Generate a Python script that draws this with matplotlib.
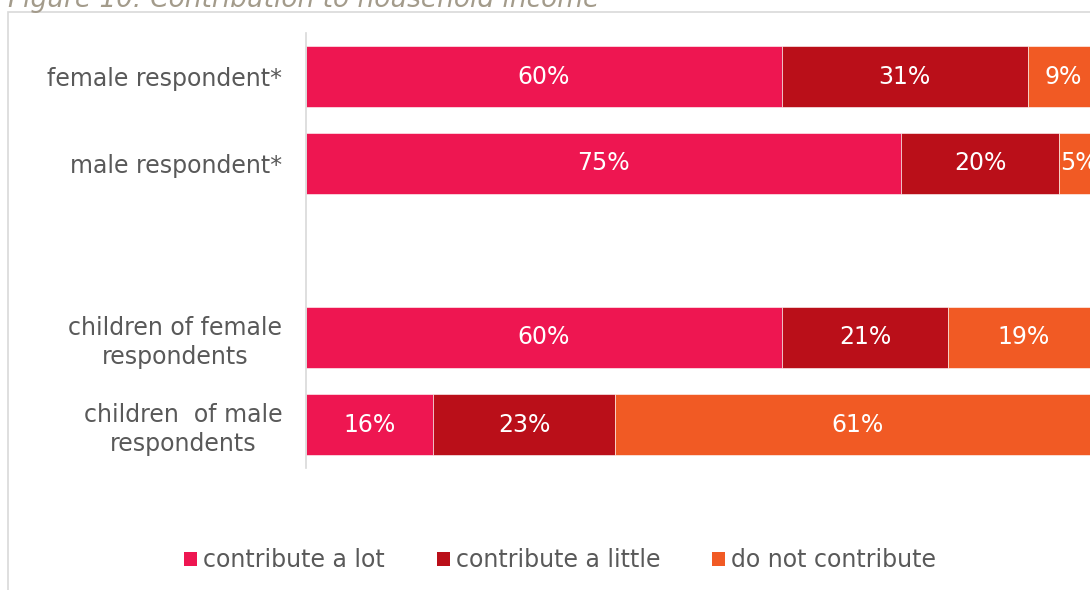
import matplotlib
matplotlib.use("Agg")
import matplotlib.pyplot as plt
from matplotlib.patches import Rectangle, Patch
import numpy as np

# survey shares per group (percent)
groups = ["female respondent*", "male respondent*", "",
          "children of female\nrespondents", "children  of male\nrespondents"]
a_lot = [60, 75, 0, 60, 16]
a_little = [31, 20, 0, 21, 23]
not_at_all = [9, 5, 0, 19, 61]
series_names = ["contribute a lot", "contribute a little", "do not contribute"]
colors = ["#EE1651", "#BA0F19", "#F15A24"]

fig = plt.figure(figsize=(10.9, 5.9), dpi=100)
ax = fig.add_axes([306/1090, 1 - 468/590, 793/1090, 435/590])

y = np.arange(len(groups))
left = np.zeros(len(groups))
for vals, col in zip([a_lot, a_little, not_at_all], colors):
    vals = np.array(vals, dtype=float)
    bars = ax.barh(y, vals, left=left, height=0.71, color=col,
                   edgecolor="white", linewidth=0.4)
    for b, v in zip(bars, vals):
        if v > 0:
            ax.text(b.get_x() + b.get_width() / 2, b.get_y() + b.get_height() / 2,
                    f"{int(v)}%", ha="center", va="center", color="white", fontsize=17)
    left += vals

ax.set_xlim(0, 100)
ax.set_ylim(4.5, -0.5)
ax.set_yticks(y)
ax.set_yticklabels(groups, fontsize=17, color="#595959", multialignment="center",
                   linespacing=1.25)
ax.tick_params(axis="y", length=0, pad=17)
ax.set_xticks([])
for s in ["top", "right", "bottom"]:
    ax.spines[s].set_visible(False)
ax.spines["left"].set_color("#d9d9d9")
ax.spines["left"].set_linewidth(1.2)

# outer frame around the chart area
fig.add_artist(Rectangle((8/1090, -0.1), 1.2, 1 - 12/590 + 0.1, transform=fig.transFigure,
                         fill=False, edgecolor="#d9d9d9", linewidth=1.2, clip_on=False))

fig.text(8/1090, 1 - 7/590, "Figure 10: Contribution to household income",
         fontsize=19, style="italic", color="#a39b8b", va="baseline", ha="left")

handles = [Patch(facecolor=c, edgecolor="none") for c in colors]
fig.legend(handles, series_names, loc="center", bbox_to_anchor=(560/1090, 1 - 560/590),
           ncol=3, frameon=False, labelcolor="#595959",
           handlelength=0.55, handleheight=0.55, handletextpad=0.25, columnspacing=2.2,
           prop={"size": 17})

fig.savefig("out.png", dpi=100)
